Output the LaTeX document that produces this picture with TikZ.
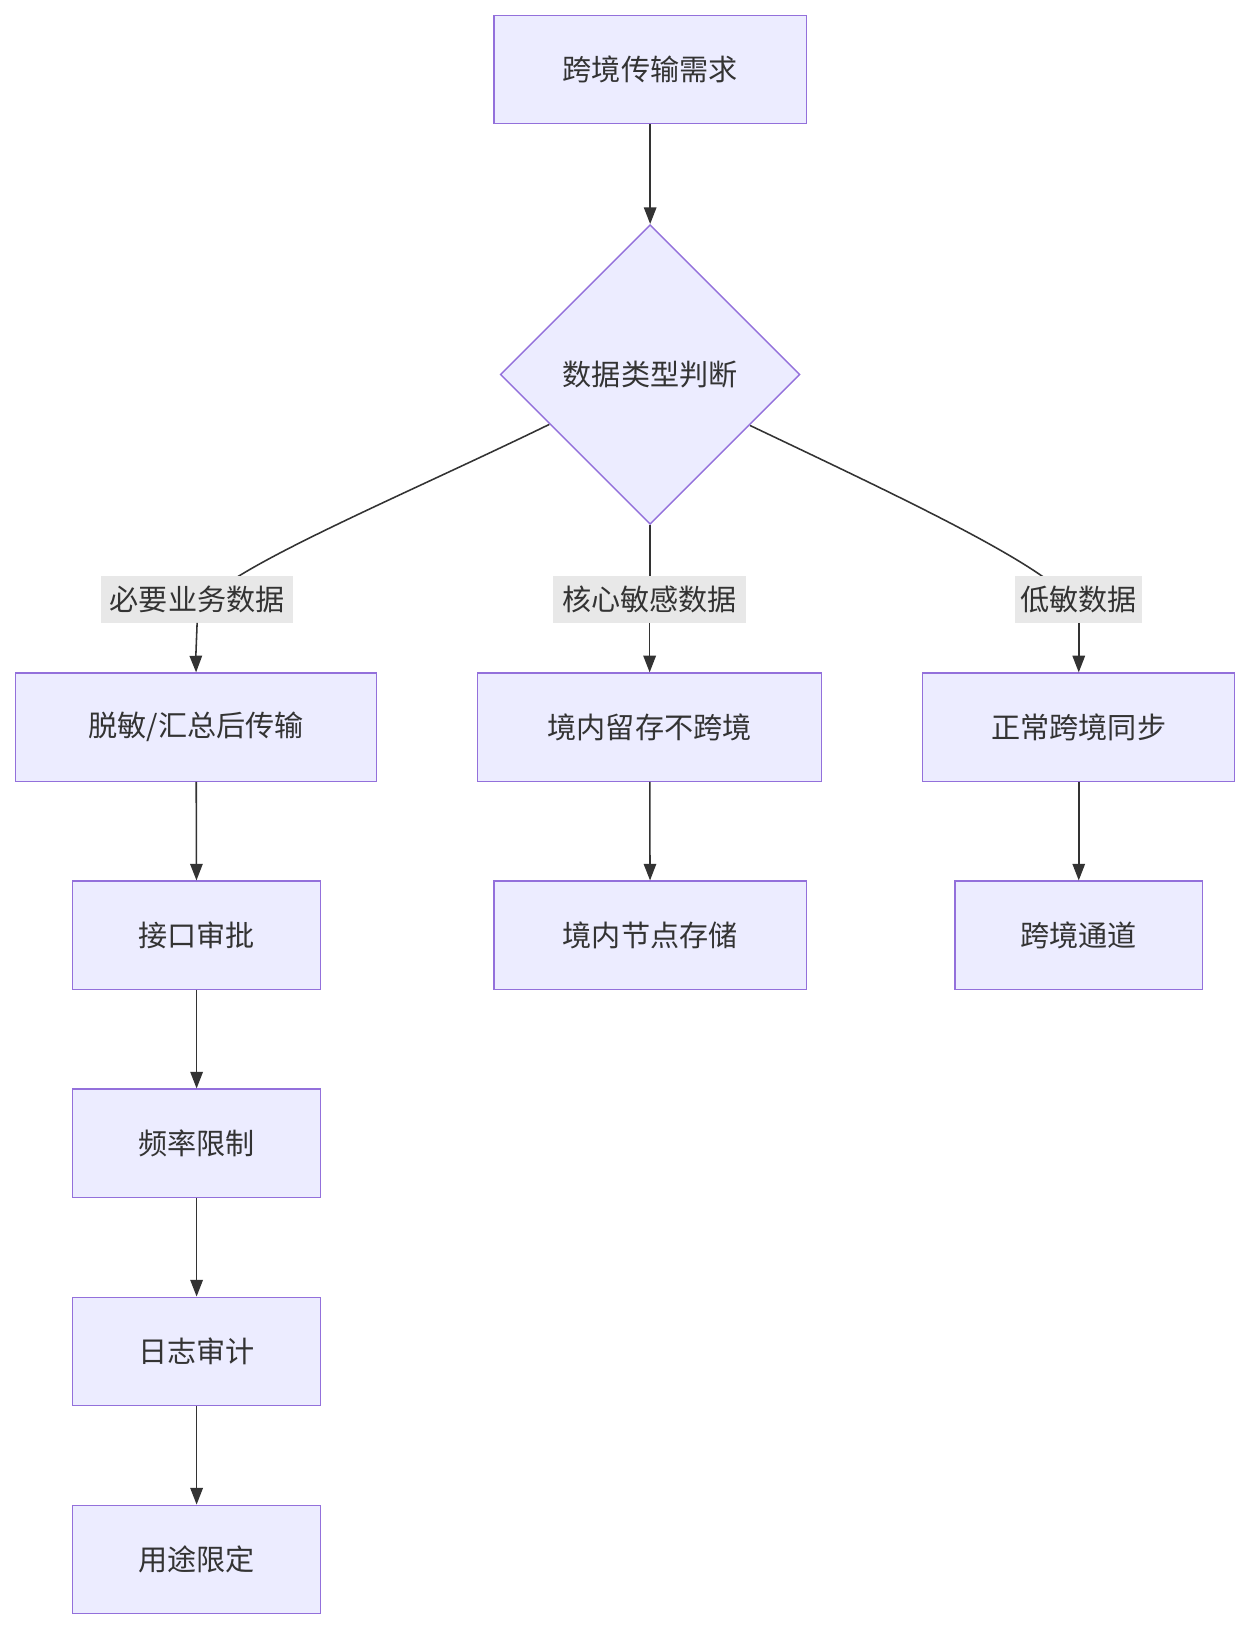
\documentclass[tikz,border=0pt]{standalone}
\usepackage{fontspec}
\setmainfont{Noto Sans CJK SC}
\usetikzlibrary{shapes.geometric,arrows.meta}
\definecolor{nfill}{HTML}{ECECFF}
\definecolor{nline}{HTML}{9370DB}
\definecolor{eline}{HTML}{333333}
\definecolor{lbg}{HTML}{E8E8E8}
\tikzset{
 box/.style={draw=nline,fill=nfill,line width=1.3pt,inner sep=0pt,font=\fontsize{28}{32}\selectfont,text=eline},
 dia/.style={diamond,draw=nline,fill=nfill,line width=1.3pt,inner sep=0pt,minimum width=288pt,minimum height=288pt,aspect=1,font=\fontsize{28}{32}\selectfont,text=eline},
 lab/.style={fill=lbg,inner sep=0pt,minimum height=45pt,font=\fontsize{28}{32}\selectfont,text=eline},
 arr/.style={draw=eline,line width=1.5pt,-{Triangle[length=16pt,width=12pt]}},
 ln/.style={draw=eline,line width=1.5pt}
}
\begin{document}
\begin{tikzpicture}[x=1pt,y=-1pt]
\useasboundingbox (0,0) rectangle (1200,1565);
\node[box,minimum width=300pt,minimum height=104pt] (a) at (625,67) {跨境传输需求};
\node[dia] (d) at (625,360) {数据类型判断};
\node[box,minimum width=347pt,minimum height=104pt] (l1) at (188.5,699) {脱敏/汇总后传输};
\node[box,minimum width=331pt,minimum height=104pt] (m1) at (624.5,699) {境内留存不跨境};
\node[box,minimum width=300pt,minimum height=104pt] (r1) at (1037,699) {正常跨境同步};
\node[box,minimum width=238pt,minimum height=104pt] (l2) at (189,899) {接口审批};
\node[box,minimum width=300pt,minimum height=104pt] (m2) at (625,899) {境内节点存储};
\node[box,minimum width=238pt,minimum height=104pt] (r2) at (1037,899) {跨境通道};
\node[box,minimum width=238pt,minimum height=104pt] (l3) at (189,1099) {频率限制};
\node[box,minimum width=238pt,minimum height=104pt] (l4) at (189,1299) {日志审计};
\node[box,minimum width=238pt,minimum height=104pt] (l5) at (189,1499) {用途限定};
\draw[arr] (a) -- (d.north);
\coordinate (dl) at (528,408);
\coordinate (dr) at (721,409);
\draw[ln] (dl) .. controls (380,480) and (210,550) .. (192,585);
\draw[ln] (dr) .. controls (870,480) and (1020,550) .. (1034,585);
\draw[ln] (d.south) -- (625,576);
\node[lab,minimum width=185pt] (t1) at (189.5,576) {必要业务数据};
\node[lab,minimum width=185pt] (t2) at (624.5,576) {核心敏感数据};
\node[lab,minimum width=122pt] (t3) at (1037,576) {低敏数据};
\draw[arr] (t1.south) ++(0,0) .. controls (188,615) .. (l1.north);
\draw[arr] (t2.south) -- (m1.north);
\draw[arr] (t3.south) .. controls (1037,615) .. (r1.north);
\draw[arr] (l1) -- (l2);
\draw[arr] (m1) -- (m2);
\draw[arr] (r1) -- (r2);
\draw[arr] (l2) -- (l3);
\draw[arr] (l3) -- (l4);
\draw[arr] (l4) -- (l5);
\end{tikzpicture}
\end{document}
